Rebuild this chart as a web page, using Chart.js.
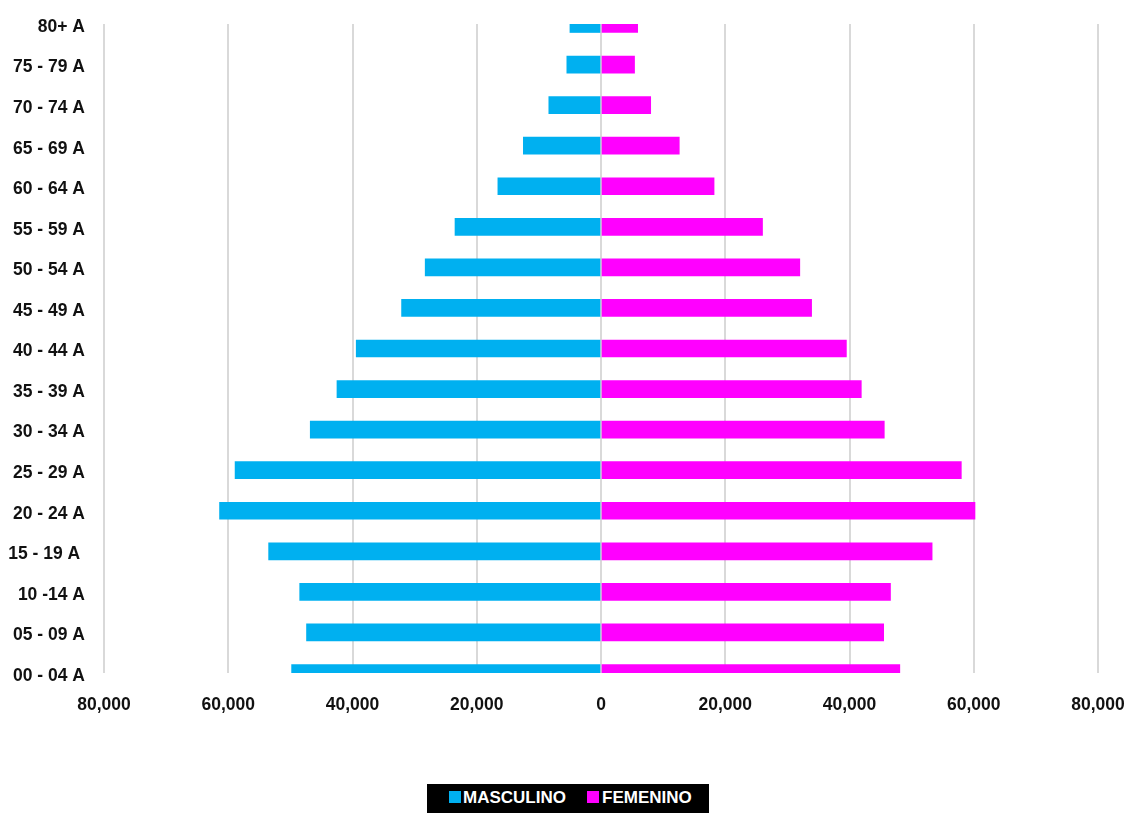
<!doctype html>
<html lang="es">
  <head>
    <meta charset="utf-8">
    <title>Piramide poblacional</title>
    <style>
      * {
        margin: 0;
        padding: 0;
      }
      body {
        width: 1130px;
        height: 813px;
        background: #fff;
        position: relative;
        overflow: hidden;
        font-family: 'Liberation Sans', Arial, sans-serif;
      }
      .chartBox {
        position: absolute;
        left: 0;
        top: 0;
        width: 1130px;
        height: 760px;
      }
      .legendBox {
        position: absolute;
        left: 427px;
        top: 784px;
        width: 282px;
        height: 29px;
        background: #000;
        color: #fff;
        font-weight: bold;
        font-size: 17px;
        line-height: 17px;
      }
      .legendBox .sq {
        position: absolute;
        top: 7px;
        width: 12px;
        height: 12px;
      }
      .legendBox .txt {
        position: absolute;
        top: 5px;
      }
    </style>
  </head>
  <body>
    <div class="chartBox">
      <canvas id="myChart"></canvas>
    </div>
    <div class="legendBox">
      <span class="sq" style="left:22px;background:#00B0F0"></span>
      <span class="txt" style="left:36px">MASCULINO</span>
      <span class="sq" style="left:160px;background:#FF00FF"></span>
      <span class="txt" style="left:175px">FEMENINO</span>
    </div>

    <script src="https://cdn.jsdelivr.net/npm/chart.js/dist/chart.umd.min.js"></script>
    <script>
    // setup
    const ageGroups = ['80+ A', '75 - 79 A', '70 - 74 A', '65 - 69 A', '60 - 64 A', '55 - 59 A',
      '50 - 54 A', '45 - 49 A', '40 - 44 A', '35 - 39 A', '30 - 34 A', '25 - 29 A',
      '20 - 24 A', '15 - 19 A ', '10 -14 A', '05 - 09 A', '00 - 04 A']

    const masculino = [5000, 5500, 8400, 12500, 16600, 23500, 28300, 32100, 39400,
      42500, 46800, 58900, 61400, 53500, 48500, 47400, 49800]

    const femenino = [5900, 5400, 8000, 12600, 18200, 26000, 32000, 33900, 39500,
      41900, 45600, 58000, 60200, 53300, 46600, 45500, 48100]

    const xTicks = [-80000, -60000, -40000, -20000, 0, 20000, 40000, 60000, 80000]

    const data = {
      labels: ageGroups,
      datasets: [
        {
          label: 'MASCULINO',
          data: masculino.map(v => -v),
          backgroundColor: '#00B0F0',
          barThickness: 17
        },
        {
          label: 'FEMENINO',
          data: femenino,
          backgroundColor: '#FF00FF',
          barThickness: 17
        }
      ]
    }

    const labelFont = { family: "'Liberation Sans', Arial, sans-serif", size: 17.5, weight: 'bold' }

    const config = {
      type: 'bar',
      data,
      options: {
        indexAxis: 'y',
        responsive: true,
        maintainAspectRatio: false,
        animation: false,
        layout: {
          padding: { top: 24, left: 0, right: 32, bottom: 37 }
        },
        plugins: {
          legend: { display: false },
          tooltip: { enabled: false }
        },
        scales: {
          x: {
            stacked: true,
            min: xTicks[0],
            max: xTicks[xTicks.length - 1],
            afterBuildTicks: (scale) => {
              scale.ticks = xTicks.map(v => ({ value: v }))
            },
            afterFit: (scale) => {
              scale.height = 50
              scale.paddingLeft = 0
              scale.paddingRight = 0
            },
            grid: {
              color: '#d9d9d9',
              lineWidth: 2,
              drawTicks: false
            },
            border: { display: false },
            ticks: {
              padding: 22,
              color: '#111',
              font: labelFont,
              callback: (v) => Math.abs(v).toLocaleString('en-US')
            }
          },
          y: {
            stacked: true,
            offset: false,
            afterFit: (scale) => {
              scale.width = 104
              scale.paddingTop = 0
              scale.paddingBottom = 0
            },
            grid: { display: false, drawTicks: false },
            border: { display: false },
            ticks: {
              padding: 19,
              labelOffset: 3,
              color: '#111',
              font: labelFont
            }
          }
        }
      }
    }

    const myChart = new Chart(document.getElementById('myChart'), config)
    </script>
  </body>
</html>
